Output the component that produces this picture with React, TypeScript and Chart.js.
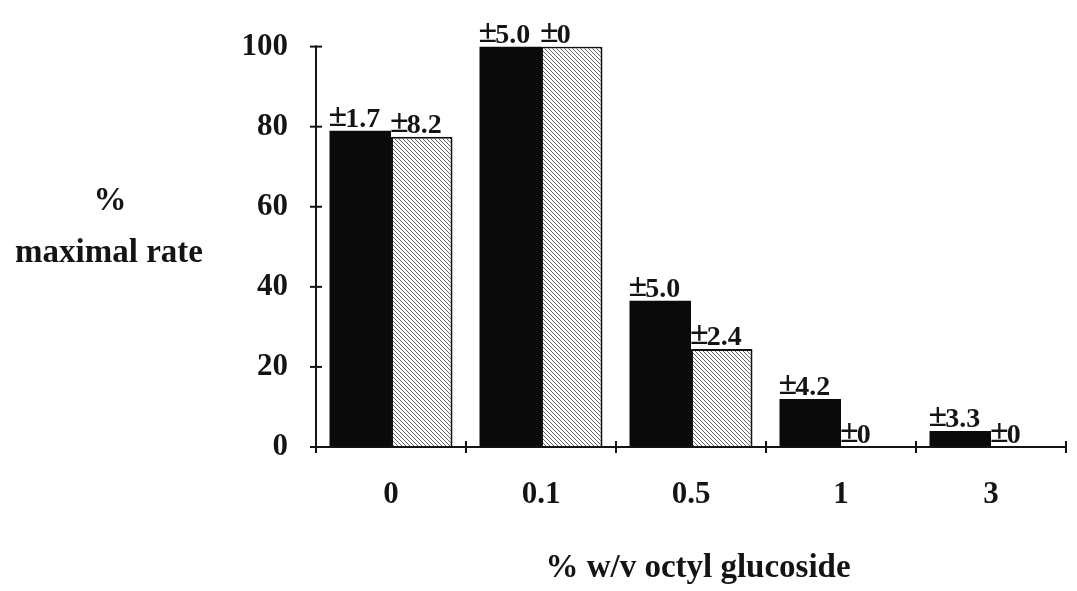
import { useEffect, useRef } from 'react';
import { Chart, registerables } from 'chart.js';
Chart.register(...registerables);

const categories = ['0', '0.1', '0.5', '1', '3'];
const solidValues = [79, 100, 36.5, 12, 4];
const hatchedValues = [77.5, 100, 24.5, 0, 0];
const solidErrors = ['1.7', '5.0', '5.0', '4.2', '3.3'];
const hatchedErrors = ['8.2', '0', '2.4', '0', '0'];
const yTickValues = [0, 20, 40, 60, 80, 100];
const yTitleLines = ['%', 'maximal rate'];
const xTitle = '% w/v octyl glucoside';

const FONT = '"Liberation Serif", "DejaVu Serif", serif';
const INK = '#141414';

function makeHatch(ctx: CanvasRenderingContext2D) {
  const c = document.createElement('canvas');
  c.width = 4;
  c.height = 4;
  const g = c.getContext('2d')!;
  g.fillStyle = '#ffffff';
  g.fillRect(0, 0, 4, 4);
  g.strokeStyle = '#666666';
  g.lineWidth = 1;
  g.beginPath();
  g.moveTo(-1, -1); g.lineTo(5, 5);
  g.moveTo(3, -1); g.lineTo(5, 1);
  g.moveTo(-1, 3); g.lineTo(1, 5);
  g.stroke();
  return ctx.createPattern(c, 'repeat')!;
}

const decorPlugin = {
  id: 'decor',
  afterDatasetsDraw(chart: any) {
    const ctx: CanvasRenderingContext2D = chart.ctx;
    const area = chart.chartArea;
    const xs = chart.scales.x;
    const ys = chart.scales.y;
    ctx.save();
    // axes lines
    ctx.strokeStyle = INK;
    ctx.lineWidth = 2;
    ctx.beginPath();
    ctx.moveTo(area.left, ys.getPixelForValue(100) - 1);
    ctx.lineTo(area.left, area.bottom);
    ctx.lineTo(area.right, area.bottom);
    ctx.stroke();
    // y ticks crossing the axis
    yTickValues.forEach((v) => {
      const y = ys.getPixelForValue(v);
      ctx.beginPath();
      ctx.moveTo(area.left - 6, y);
      ctx.lineTo(area.left + 6, y);
      ctx.stroke();
    });
    // x ticks at category boundaries
    for (let i = 0; i <= categories.length; i++) {
      const x = xs.getPixelForValue(i - 0.5);
      ctx.beginPath();
      ctx.moveTo(x, area.bottom - 6);
      ctx.lineTo(x, area.bottom + 6);
      ctx.stroke();
    }
    // error labels
    ctx.fillStyle = INK;
    ctx.textAlign = 'left';
    ctx.textBaseline = 'alphabetic';
    const errs = [solidErrors, hatchedErrors];
    chart.data.datasets.forEach((_: any, di: number) => {
      const meta = chart.getDatasetMeta(di);
      meta.data.forEach((bar: any, i: number) => {
        const left = bar.x - bar.width / 2 - 1;
        const base = bar.y - 4;
        ctx.font = 'bold 34px ' + FONT;
        ctx.fillText('±', left, base - 1);
        const pw = ctx.measureText('±').width;
        ctx.font = 'bold 28px ' + FONT;
        ctx.fillText(errs[di][i], left + pw - 2, base);
      });
    });
    // titles
    ctx.textAlign = 'center';
    ctx.font = 'bold 33px ' + FONT;
    ctx.fillText(yTitleLines[0], 110, 210);
    ctx.fillText(yTitleLines[1], 109, 262);
    ctx.fillText(xTitle, 698, 577);
    ctx.restore();
  },
};

export default function App() {
  const ref = useRef<HTMLCanvasElement>(null);
  useEffect(() => {
    document.body.style.margin = '0';
    const canvas = ref.current!;
    const ctx = canvas.getContext('2d')!;
    const hatch = makeHatch(ctx);
    const chart = new Chart(canvas, {
      type: 'bar',
      data: {
        labels: categories,
        datasets: [
          {
            data: solidValues,
            backgroundColor: '#0a0a0a',
            borderColor: '#0a0a0a',
            borderWidth: 0,
            categoryPercentage: 0.82,
            barPercentage: 1.0,
          },
          {
            data: hatchedValues,
            backgroundColor: hatch,
            borderColor: '#111',
            borderWidth: 2,
            categoryPercentage: 0.82,
            barPercentage: 1.0,
          },
        ],
      },
      options: {
        responsive: false,
        animation: false,
        devicePixelRatio: 1,
        layout: { padding: { top: 46, right: 11, left: 0, bottom: 0 } },
        plugins: { legend: { display: false }, tooltip: { enabled: false } },
        scales: {
          x: {
            offset: true,
            grid: { display: false, drawTicks: false },
            border: { display: false },
            ticks: {
              color: INK,
              font: { family: FONT, size: 31, weight: 'bold' },
              padding: 29,
            },
            afterFit: (s: any) => { s.height = 144; },
          },
          y: {
            min: 0,
            max: 100,
            grid: { display: false, drawTicks: false },
            border: { display: false },
            ticks: {
              stepSize: 20,
              color: INK,
              font: { family: FONT, size: 31, weight: 'bold' },
              padding: 28,
            },
            afterFit: (s: any) => { s.width = 316; },
          },
        },
      },
      plugins: [decorPlugin],
    } as any);
    return () => chart.destroy();
  }, []);
  return (
    <div style={{ width: 1077, height: 591, background: '#fff' }}>
      <canvas ref={ref} width={1077} height={591} style={{ display: 'block' }} />
    </div>
  );
}
